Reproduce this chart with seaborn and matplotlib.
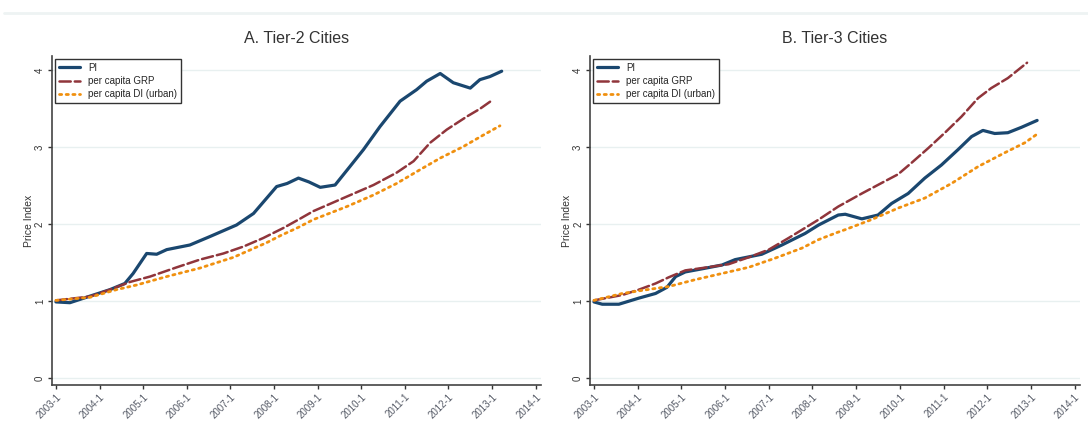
import matplotlib
matplotlib.use("Agg")
import matplotlib.pyplot as plt
import seaborn as sns
import pandas as pd

# --- Values (decimal year, index 2003-1 = 1) ---
# A. Tier-2 cities
t2_pi_t = [2003.0, 2003.32, 2003.86, 2004.24, 2004.58, 2004.77, 2005.08, 2005.31, 2005.54,
           2006.07, 2006.53, 2007.14, 2007.53, 2008.06, 2008.3, 2008.56, 2008.8, 2009.06,
           2009.4, 2009.74, 2010.05, 2010.43, 2010.89, 2011.27, 2011.5, 2011.81, 2012.11,
           2012.5, 2012.72, 2012.95, 2013.22]
t2_pi_v = [0.99, 0.98, 1.08, 1.15, 1.23, 1.36, 1.62, 1.61, 1.67,
           1.73, 1.84, 1.99, 2.14, 2.49, 2.53, 2.60, 2.55, 2.48,
           2.51, 2.75, 2.97, 3.27, 3.60, 3.75, 3.86, 3.96, 3.84,
           3.77, 3.88, 3.92, 3.99]
t2_grp_t = [2003.0, 2003.78, 2004.24, 2004.7, 2005.16, 2005.77, 2006.3, 2006.84, 2007.3,
            2007.75, 2008.21, 2008.56, 2008.9, 2009.67, 2010.28, 2010.81, 2011.2, 2011.58,
            2011.96, 2012.42, 2012.72, 2012.97]
t2_grp_v = [1.01, 1.06, 1.15, 1.25, 1.32, 1.44, 1.54, 1.62, 1.71,
            1.82, 1.95, 2.06, 2.17, 2.36, 2.51, 2.67, 2.82, 3.06,
            3.23, 3.40, 3.50, 3.60]
t2_di_t = [2003.0, 2003.78, 2004.39, 2004.85, 2005.54, 2006.3, 2007.07, 2007.83, 2008.14,
           2008.56, 2008.9, 2009.67, 2010.28, 2010.81, 2011.35, 2011.81, 2012.34, 2012.8,
           2013.18]
t2_di_v = [1.01, 1.05, 1.15, 1.21, 1.32, 1.43, 1.57, 1.76, 1.85,
           1.96, 2.06, 2.23, 2.38, 2.53, 2.71, 2.86, 3.01, 3.16,
           3.28]

# B. Tier-3 cities
t3_pi_t = [2003.0, 2003.19, 2003.57, 2004.03, 2004.41, 2004.67, 2004.87, 2005.09, 2005.47,
           2005.93, 2006.23, 2006.84, 2007.3, 2007.83, 2008.14, 2008.59, 2008.75, 2009.13,
           2009.5, 2009.81, 2010.19, 2010.57, 2010.95, 2011.33, 2011.64, 2011.9, 2012.17,
           2012.47, 2012.78, 2013.14]
t3_pi_v = [0.99, 0.96, 0.96, 1.04, 1.10, 1.18, 1.32, 1.38, 1.42,
           1.47, 1.54, 1.61, 1.73, 1.88, 1.99, 2.12, 2.13, 2.07,
           2.12, 2.27, 2.40, 2.60, 2.77, 2.97, 3.14, 3.22, 3.18,
           3.19, 3.26, 3.35]
t3_grp_t = [2003.0, 2003.65, 2004.03, 2004.41, 2004.71, 2005.09, 2005.47, 2006.08, 2006.54,
            2007.0, 2007.45, 2007.91, 2008.14, 2008.59, 2009.13, 2009.66, 2009.96, 2010.27,
            2010.65, 2011.03, 2011.41, 2011.79, 2012.09, 2012.47, 2012.91]
t3_grp_v = [1.01, 1.08, 1.15, 1.23, 1.31, 1.40, 1.43, 1.48, 1.57,
            1.67, 1.82, 1.98, 2.06, 2.23, 2.40, 2.56, 2.65, 2.80,
            2.99, 3.19, 3.40, 3.64, 3.77, 3.90, 4.10]
t3_di_t = [2003.0, 2003.65, 2004.1, 2004.71, 2005.32, 2005.93, 2006.54, 2007.15, 2007.76,
           2008.14, 2008.55, 2008.75, 2009.35, 2009.96, 2010.57, 2011.18, 2011.79, 2012.4,
           2012.86, 2013.16]
t3_di_v = [1.01, 1.10, 1.14, 1.19, 1.28, 1.36, 1.44, 1.56, 1.69,
           1.80, 1.89, 1.93, 2.06, 2.21, 2.34, 2.53, 2.75, 2.93,
           3.06, 3.18]

titles = ["A. Tier-2 Cities", "B. Tier-3 Cities"]
series_names = ["PI", "per capita GRP", "per capita DI (urban)"]
years = list(range(2003, 2015))
year_labels = [f"{y}-1" for y in years]

sns.set_theme(style="white")
plt.rcParams["font.family"] = ["Liberation Sans", "DejaVu Sans"]

colors = ["#1a476f", "#90353b", "#f0900f"]
styles = ["-", (0, (4.5, 1.6)), (0, (0.8, 1.6))]
widths = [2.3, 1.8, 2.0]

fig = plt.figure(figsize=(10.88, 4.36), dpi=100)
axes = [fig.add_axes([0.0478, 0.117, 0.4494, 0.755]),
        fig.add_axes([0.5423, 0.117, 0.4503, 0.755])]

# faint rule along the top of the page
fig.add_artist(plt.Line2D([0.004, 1.0], [0.97, 0.97], color="#eef3f3", lw=2))

panels = [
    [(t2_pi_t, t2_pi_v), (t2_grp_t, t2_grp_v), (t2_di_t, t2_di_v)],
    [(t3_pi_t, t3_pi_v), (t3_grp_t, t3_grp_v), (t3_di_t, t3_di_v)],
]

for ax, title, panel in zip(axes, titles, panels):
    for (tt, vv), name, c, ls, lw in zip(panel, series_names, colors, styles, widths):
        df = pd.DataFrame({"t": tt, "v": vv})
        sns.lineplot(data=df, x="t", y="v", ax=ax, color=c, linestyle=ls, lw=lw,
                     label=name, sort=False, solid_capstyle="round", dash_capstyle="round")

    ax.set_xlim(2002.91, 2014.12)
    ax.set_ylim(-0.09, 4.19)
    ax.set_xticks(years)
    ax.set_xticklabels(year_labels, rotation=45, ha="right", rotation_mode="anchor",
                       fontsize=7, color="#555a66")
    ax.set_yticks([0, 1, 2, 3, 4])
    ax.set_yticklabels(["0", "1", "2", "3", "4"], rotation=90, va="center", fontsize=7,
                       color="#333333")
    ax.tick_params(axis="both", direction="out", length=3, width=1, color="#333333",
                   bottom=True, left=True, pad=2)
    ax.yaxis.grid(True, color="#e8f0f0", lw=1)
    ax.xaxis.grid(False)
    for s in ["top", "right"]:
        ax.spines[s].set_visible(False)
    for s in ["left", "bottom"]:
        ax.spines[s].set_color("#444444")
        ax.spines[s].set_linewidth(1.2)
    ax.set_xlabel("")
    ax.set_ylabel("Price Index", fontsize=7.5, color="#333333", labelpad=1)
    ax.set_title(title, fontsize=11.5, color="#333333", pad=9)
    leg = ax.legend(loc="upper left", fontsize=7, frameon=True, fancybox=False,
                    edgecolor="#333333", framealpha=1, handlelength=2.2,
                    borderpad=0.4, labelspacing=0.35, borderaxespad=0.3)
    leg.get_frame().set_linewidth(1.0)

fig.savefig("out.png", dpi=100, facecolor="white")
